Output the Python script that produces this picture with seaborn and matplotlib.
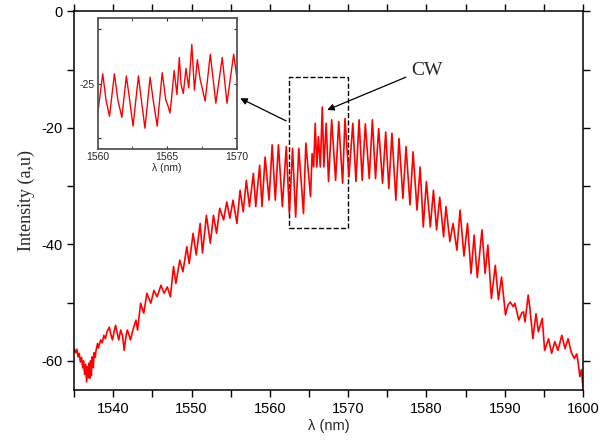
import matplotlib
matplotlib.use("Agg")
import matplotlib.pyplot as plt
import seaborn as sns
import pandas as pd
from matplotlib.ticker import MultipleLocator
from matplotlib.patches import Rectangle

# spectrum (peaks and troughs of the fringes)
wavelength = [
    1535.0, 1535.2, 1535.35, 1535.5, 1535.65, 1535.8, 1535.95, 1536.1, 1536.2, 1536.35,
    1536.45, 1536.6, 1536.7, 1536.8, 1536.9, 1537.0, 1537.1, 1537.2, 1537.3, 1537.45,
    1537.55, 1537.7, 1537.8, 1538.0, 1538.1, 1538.4, 1538.6, 1538.8, 1539.0, 1539.2,
    1539.5, 1539.7, 1539.9, 1540.1, 1540.3, 1540.5, 1540.7, 1540.95, 1541.2, 1541.4,
    1541.6, 1541.8, 1542.0, 1542.2, 1542.55, 1542.9, 1543.1, 1543.5, 1543.7, 1543.9,
    1544.3, 1544.8, 1545.2, 1545.6, 1546.1, 1546.5, 1546.9, 1547.3, 1547.7, 1548.0,
    1548.5, 1548.9, 1549.4, 1549.7, 1550.2, 1550.6, 1551.1, 1551.4, 1551.9, 1552.4,
    1552.8, 1553.2, 1553.6, 1554.1, 1554.5, 1554.9, 1555.3, 1555.8, 1556.2, 1556.6,
    1557.0, 1557.4, 1557.9, 1558.2, 1558.7, 1559.0, 1559.4, 1559.9, 1560.3, 1560.7,
    1561.1, 1561.6, 1562.1, 1562.5, 1562.9, 1563.3, 1563.7, 1564.3, 1564.6, 1565.2,
    1565.4, 1565.6, 1565.8, 1566.0, 1566.2, 1566.45, 1566.7, 1566.9, 1567.2, 1567.5,
    1567.9, 1568.4, 1568.8, 1569.3, 1569.6, 1570.1, 1570.6, 1571.0, 1571.4, 1571.8,
    1572.2, 1572.7, 1573.1, 1573.5, 1573.9, 1574.4, 1574.8, 1575.2, 1575.6, 1576.1,
    1576.5, 1577.0, 1577.4, 1577.9, 1578.3, 1578.8, 1579.2, 1579.6, 1580.0, 1580.5,
    1580.9, 1581.3, 1581.7, 1582.2, 1582.5, 1583.0, 1583.4, 1583.9, 1584.3, 1584.8,
    1585.25, 1585.7, 1586.1, 1586.5, 1587.1, 1587.5, 1587.85, 1588.3, 1588.8, 1589.2,
    1589.6, 1590.1, 1590.4, 1590.7, 1591.1, 1591.3, 1591.8, 1592.2, 1592.4, 1592.6,
    1593.0, 1593.2, 1593.6, 1594.0, 1594.3, 1594.8, 1595.1, 1595.6, 1596.0, 1596.4,
    1596.8, 1597.3, 1597.7, 1598.1, 1598.5, 1598.9, 1599.2, 1599.4, 1599.6, 1599.8,
    1600.0,
]
intensity = [
    -57.9, -58.6, -58.0, -59.3, -58.7, -60.2, -59.4, -61.2, -60.0, -62.3,
    -60.6, -63.6, -61.0, -62.9, -60.4, -63.0, -60.0, -62.5, -59.3, -61.2,
    -58.6, -59.4, -58.2, -57.0, -57.8, -56.4, -56.9, -55.6, -56.2, -55.0,
    -54.2, -55.5, -56.4, -55.0, -53.9, -55.2, -56.4, -54.7, -55.8, -58.2,
    -56.0, -54.7, -55.5, -56.4, -54.5, -53.0, -54.7, -50.1, -51.0, -51.8,
    -48.4, -50.1, -47.9, -49.0, -47.0, -48.4, -47.3, -49.0, -43.8, -46.7,
    -42.7, -44.7, -40.4, -43.3, -38.1, -41.8, -36.4, -41.5, -35.0, -39.8,
    -35.0, -38.1, -33.8, -35.8, -32.7, -35.5, -32.4, -36.4, -30.7, -34.4,
    -29.0, -33.5, -27.8, -33.5, -26.4, -33.5, -25.0, -32.4, -22.9, -32.4,
    -22.9, -33.5, -23.2, -34.7, -23.5, -35.3, -23.5, -34.7, -22.6, -31.8,
    -24.4, -26.7, -19.2, -26.7, -21.5, -26.7, -16.4, -26.7, -19.2, -29.2,
    -18.6, -29.0, -18.9, -29.5, -18.4, -28.4, -19.2, -29.2, -18.6, -29.0,
    -19.3, -28.7, -18.6, -28.7, -20.1, -29.5, -20.7, -30.4, -20.9, -32.4,
    -21.8, -32.1, -23.2, -33.2, -24.1, -34.1, -26.7, -37.0, -29.2, -37.0,
    -30.7, -37.5, -31.9, -38.7, -33.5, -39.5, -36.4, -41.0, -34.1, -42.0,
    -36.4, -45.0, -38.4, -45.7, -37.5, -45.0, -40.1, -49.3, -43.6, -49.5,
    -45.6, -52.1, -50.5, -49.9, -50.7, -50.1, -53.0, -51.7, -51.6, -53.3,
    -48.7, -50.7, -56.2, -51.9, -55.0, -52.7, -58.2, -56.2, -58.7, -56.7,
    -58.2, -55.6, -57.9, -56.2, -58.5, -59.6, -58.8, -60.4, -62.7, -61.5,
    -64.5,
]

# inset spectrum (1560-1570 nm)
inset_wl = [
    1560.0, 1560.36, 1560.6, 1560.85, 1561.2, 1561.45, 1561.74, 1562.06, 1562.3, 1562.54,
    1562.93, 1563.14, 1563.4, 1563.77, 1563.99, 1564.28, 1564.64, 1564.9, 1565.07, 1565.2,
    1565.3, 1565.5, 1565.7, 1565.87, 1566.0, 1566.16, 1566.35, 1566.55, 1566.77, 1566.96,
    1567.17, 1567.37, 1567.73, 1568.1, 1568.5, 1568.96, 1569.3, 1569.78, 1570.03,
]
inset_int = [
    -27.8, -24.1, -26.5, -28.0, -24.1, -26.5, -28.1, -24.3, -26.5, -28.9,
    -24.3, -26.5, -29.1, -24.4, -26.5, -28.9, -24.0, -26.5, -27.1, -27.7,
    -26.5, -23.8, -26.0, -22.6, -25.1, -25.9, -23.6, -25.4, -21.4, -25.6,
    -22.8, -24.6, -26.6, -22.3, -26.8, -22.6, -26.8, -22.3, -24.6,
]

sns.set_style("ticks")
plt.rcParams['font.family'] = ['Liberation Sans', 'DejaVu Sans']
plt.rcParams['axes.unicode_minus'] = False

df = pd.DataFrame({"wl": wavelength, "I": intensity})
df_in = pd.DataFrame({"wl": inset_wl, "I": inset_int})

fig = plt.figure(figsize=(6.02, 4.45), dpi=100)
ax = fig.add_axes([0.1231, 0.1236, 0.8453, 0.8506])
sns.lineplot(data=df, x="wl", y="I", color="#ff0000", lw=1.2, estimator=None, sort=False, ax=ax)
ax.set_xlim(1535, 1600)
ax.set_ylim(-65, 0)
ax.xaxis.set_major_locator(MultipleLocator(10))
ax.xaxis.set_minor_locator(MultipleLocator(5))
ax.yaxis.set_major_locator(MultipleLocator(20))
ax.yaxis.set_minor_locator(MultipleLocator(10))
ax.tick_params(which="both", direction="out", length=5, width=1, labelsize=10.5,
               top=True, right=True, colors="black")
for s in ax.spines.values():
    s.set_linewidth(1.1)
    s.set_color("black")
ax.set_xlabel("λ (nm)", fontsize=10.5, labelpad=2)
ax.set_ylabel("Intensity (a,u)", fontsize=13, family="Liberation Serif", labelpad=4)

# dashed zoom box and arrows
ax.add_patch(Rectangle((1562.4, -37.25), 7.6, 25.95, fill=False, ls="--", lw=1.0, ec="black"))
ax.annotate("", xy=(1555.9, -14.7), xytext=(1562.4, -19.0),
            arrowprops=dict(arrowstyle="-|>", color="black", lw=0.9, mutation_scale=10))
ax.annotate("", xy=(1567.0, -17.1), xytext=(1577.7, -11.1),
            arrowprops=dict(arrowstyle="-|>", color="black", lw=0.9, mutation_scale=10))
ax.text(1580.1, -10.05, "CW", fontsize=14, family="Liberation Serif", ha="center", va="center")

# inset
axin = fig.add_axes([0.1623, 0.6652, 0.2309, 0.2937])
sns.lineplot(data=df_in, x="wl", y="I", color="#ff0000", lw=1.0, estimator=None, sort=False, ax=axin)
axin.set_xlim(1560, 1570)
axin.set_ylim(-31, -19)
axin.set_xticks([1560, 1565, 1570])
axin.xaxis.set_minor_locator(MultipleLocator(2.5))
axin.set_yticks([-30, -25, -20])
axin.set_yticklabels(["", "-25", ""])
axin.tick_params(which="both", direction="in", length=2.5, labelsize=7.5,
                 top=True, right=True, pad=2)
for s in axin.spines.values():
    s.set_linewidth(1.3)
    s.set_color("#555555")
axin.set_xlabel("λ (nm)", fontsize=7.5, labelpad=1)
axin.set_ylabel("")

fig.savefig("out.png", dpi=100)
